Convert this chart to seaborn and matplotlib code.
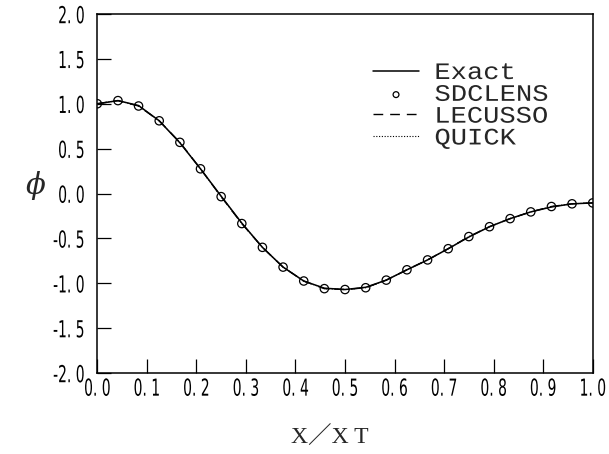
import matplotlib
matplotlib.use("Agg")
import matplotlib.pyplot as plt
from matplotlib.patheffects import AbstractPathEffect
from matplotlib.transforms import Affine2D
import seaborn as sns
import pandas as pd

# ---- data ----
x_pts = [0.0, 0.0417, 0.0833, 0.125, 0.1667, 0.2083, 0.25, 0.2917, 0.3333,
         0.375, 0.4167, 0.4583, 0.5, 0.5417, 0.5833, 0.625, 0.6667, 0.7083,
         0.75, 0.7917, 0.8333, 0.875, 0.9167, 0.9583, 1.0]
sdclens_y = [1.00, 1.035, 0.975, 0.81, 0.57, 0.275, -0.035, -0.335, -0.60,
             -0.82, -0.975, -1.06, -1.07, -1.05, -0.965, -0.85, -0.74, -0.615,
             -0.48, -0.37, -0.28, -0.205, -0.145, -0.115, -0.105]
exact_y = [1.00, 1.035, 0.98, 0.81, 0.565, 0.275, -0.03, -0.33, -0.60,
           -0.82, -0.975, -1.055, -1.07, -1.045, -0.965, -0.85, -0.74, -0.615,
           -0.485, -0.37, -0.28, -0.205, -0.15, -0.115, -0.105]
lecusso_y = [1.00, 1.035, 0.975, 0.81, 0.57, 0.275, -0.035, -0.335, -0.60,
             -0.82, -0.975, -1.06, -1.07, -1.05, -0.965, -0.85, -0.74, -0.615,
             -0.48, -0.37, -0.28, -0.205, -0.145, -0.115, -0.105]
quick_y = [1.00, 1.035, 0.975, 0.81, 0.57, 0.275, -0.035, -0.335, -0.60,
           -0.82, -0.975, -1.06, -1.07, -1.05, -0.965, -0.85, -0.74, -0.615,
           -0.48, -0.37, -0.28, -0.205, -0.145, -0.115, -0.105]

xticks = [0.0, 0.1, 0.2, 0.3, 0.4, 0.5, 0.6, 0.7, 0.8, 0.9, 1.0]
xtick_labels = ["0. 0", "0. 1", "0. 2", "0. 3", "0. 4", "0. 5", "0. 6",
                "0. 7", "0. 8", "0. 9", "1. 0"]
yticks = [-2.0, -1.5, -1.0, -0.5, 0.0, 0.5, 1.0, 1.5, 2.0]
ytick_labels = ["-2. 0", "-1. 5", "-1. 0", "-0. 5", "0. 0", "0. 5", "1. 0",
                "1. 5", "2. 0"]
legend_labels = ["Exact", "SDCLENS", "LECUSSO", "QUICK"]


class Reshape(AbstractPathEffect):
    """Draw text narrower/wider and taller/shorter about an anchor."""

    def __init__(self, sx, sy, xanchor="center", yanchor="center"):
        super().__init__()
        self.sx, self.sy = sx, sy
        self.xanchor, self.yanchor = xanchor, yanchor

    def draw_path(self, renderer, gc, tpath, affine, rgbFace=None):
        ext = tpath.get_extents()
        cx = {"right": ext.x1, "left": ext.x0}.get(self.xanchor,
                                                   0.5 * (ext.x0 + ext.x1))
        cy = {"top": ext.y1, "bottom": ext.y0}.get(self.yanchor,
                                                   0.5 * (ext.y0 + ext.y1))
        t = (Affine2D().translate(-cx, -cy).scale(self.sx, self.sy)
             .translate(cx, cy) + affine)
        renderer.draw_path(gc, tpath, t, rgbFace)


# ---- plotting ----
sns.set_style("ticks")
plt.rcParams["font.family"] = ["DejaVu Sans"]
plt.rcParams["mathtext.fontset"] = "dejavuserif"

W, H = 609, 454
fig = plt.figure(figsize=(W / 100, H / 100), dpi=100)
L, R, T, B = 97.3, 592.7, 14, 373
ax = fig.add_axes([L / W, (H - B) / H, (R - L) / W, (B - T) / H])

df_exact = pd.DataFrame({"x": x_pts, "y": exact_y})
df_lec = pd.DataFrame({"x": x_pts, "y": lecusso_y})
df_quick = pd.DataFrame({"x": x_pts, "y": quick_y})
df_sd = pd.DataFrame({"x": x_pts, "y": sdclens_y})

sns.lineplot(data=df_exact, x="x", y="y", ax=ax, color="black", lw=1.1,
             label=legend_labels[0], sort=False)
sns.scatterplot(data=df_sd, x="x", y="y", ax=ax, marker="o", s=36,
                facecolor="none", edgecolor="black", linewidth=0.9,
                label=legend_labels[1], zorder=5)
sns.lineplot(data=df_lec, x="x", y="y", ax=ax, color="black", lw=1.0,
             linestyle=(0, (7, 5)), label=legend_labels[2], sort=False)
sns.lineplot(data=df_quick, x="x", y="y", ax=ax, color="black", lw=0.8,
             linestyle=(0, (1, 1.5)), label=legend_labels[3], sort=False)

ax.set_xlim(0, 1)
ax.set_ylim(-2, 2)
ax.set_xticks(xticks)
ax.set_xticklabels(xtick_labels, family="DejaVu Sans", size=12.5)
ax.set_yticks(yticks)
ax.set_yticklabels(ytick_labels, family="DejaVu Sans", size=12.5)
for lab in ax.get_xticklabels():
    lab.set_path_effects([Reshape(0.8, 1.35, "center", "top")])
for lab in ax.get_yticklabels():
    lab.set_path_effects([Reshape(0.8, 1.35, "right", "center")])
ax.tick_params(axis="both", direction="in", length=10, width=0.9,
               color="black", labelcolor="black")
ax.tick_params(axis="y", pad=9)
ax.tick_params(axis="x", pad=3)
for sp in ax.spines.values():
    sp.set_linewidth(1.1)
    sp.set_color("black")
    sp.set_visible(True)

ax.set_xlabel("X／X T", family=["Liberation Serif", "Noto Sans CJK JP"],
              fontsize=17)
ax.xaxis.set_label_coords(0.47, -0.15)
ax.set_ylabel(r"$\phi$", fontsize=21, rotation=0, va="center", ha="center")
ax.yaxis.set_label_coords((36 - L) / (R - L), (B - 186) / (B - T))

handles, labels = ax.get_legend_handles_labels()
leg = ax.legend(handles, labels, loc="upper left",
                bbox_to_anchor=(373 / W, 1 - 61 / H),
                bbox_transform=fig.transFigure, frameon=False,
                prop=dict(family=["Liberation Mono", "DejaVu Sans Mono"],
                          size=17),
                handlelength=1.95, handletextpad=0.66, labelspacing=-0.05,
                borderpad=0, borderaxespad=0, markerscale=0.7)
for txt in leg.get_texts():
    txt.set_path_effects([Reshape(1.15, 1.0, "left", "center")])

fig.savefig("out.png", dpi=100)
